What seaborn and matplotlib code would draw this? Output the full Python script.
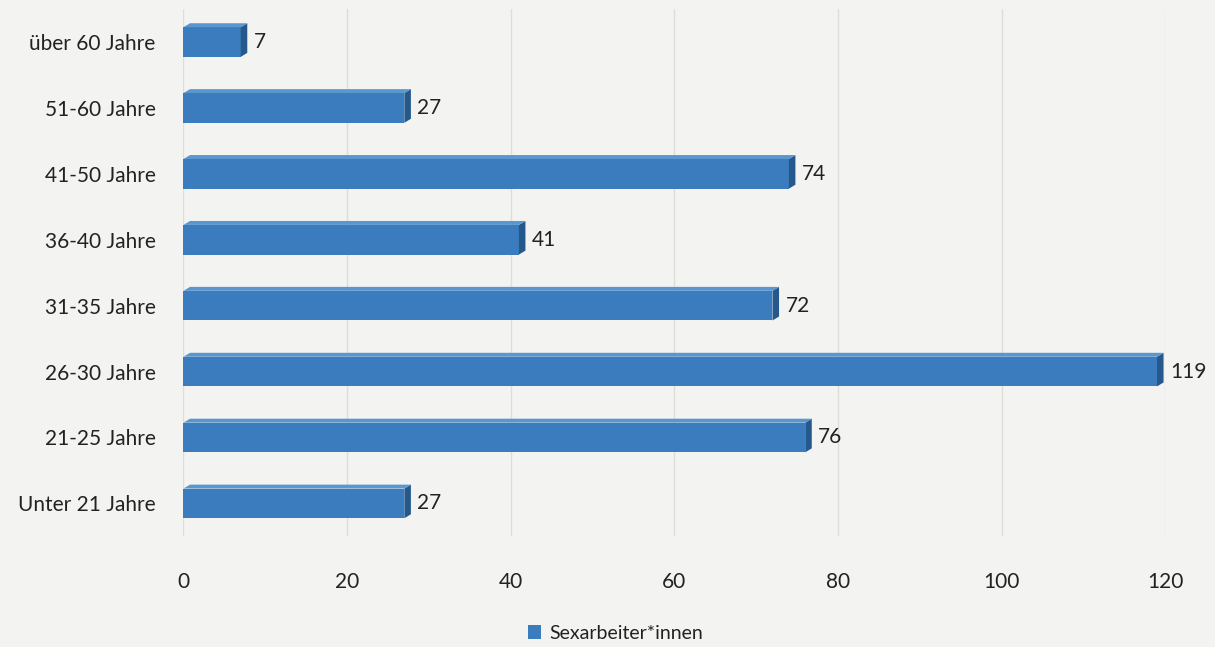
import matplotlib.pyplot as plt
import matplotlib.patches as patches
import seaborn as sns
import pandas as pd

# Altersgruppen, von oben nach unten
kategorien = ['über 60 Jahre', '51-60 Jahre', '41-50 Jahre', '36-40 Jahre',
              '31-35 Jahre', '26-30 Jahre', '21-25 Jahre', 'Unter 21 Jahre']
werte = [7, 27, 74, 41, 72, 119, 76, 27]
serie = 'Sexarbeiter*innen'
x_ticks = [0, 20, 40, 60, 80, 100, 120]

df = pd.DataFrame({'Alter': kategorien, 'Anzahl': werte, 'Serie': serie})

sns.set_theme(style='white')
plt.rcParams['font.family'] = ['Lato', 'DejaVu Sans']

bar_col = '#3a7cbd'
side_col = '#25598c'
top_col = '#5b97cf'
bg = '#f3f3f1'

fig = plt.figure(figsize=(12.15, 6.47), dpi=100, facecolor=bg)
ax = fig.add_axes([0.151, 0.171, 0.808, 0.815], facecolor=bg)

sns.barplot(data=df, x='Anzahl', y='Alter', hue='Serie', orient='h',
            palette=[bar_col], width=0.45, ax=ax, saturation=1, legend=True,
            edgecolor='none', linewidth=0)

ax.set_xlim(0, 120)
ax.set_ylim(7.5, -0.5)
ax.set_xticks(x_ticks)
ax.set_xlabel('')
ax.set_ylabel('')
for s in ax.spines.values():
    s.set_visible(False)
ax.grid(axis='x', color='#deded9', linewidth=1)
ax.set_axisbelow(True)
ax.tick_params(axis='x', labelsize=15, colors='#222222', pad=26, length=0)
ax.tick_params(axis='y', labelsize=15, colors='#222222', pad=20, length=0)

# pseudo-3D Seitenflaeche und Oberkante
dx = 0.8
for p, v in zip(ax.patches, werte):
    x0, y0 = p.get_x(), p.get_y()
    w, h = p.get_width(), p.get_height()
    side = patches.Polygon([(x0 + w, y0 + h), (x0 + w + dx, y0 + h - 0.06),
                            (x0 + w + dx, y0 - 0.06), (x0 + w, y0)],
                           closed=True, facecolor=side_col, edgecolor='none')
    top = patches.Polygon([(x0, y0), (x0 + dx, y0 - 0.06),
                           (x0 + w + dx, y0 - 0.06), (x0 + w, y0)],
                          closed=True, facecolor=top_col, edgecolor='none')
    ax.add_patch(side)
    ax.add_patch(top)
    ax.text(x0 + w + dx + 0.8, y0 + h / 2, str(v), va='center', ha='left',
            fontsize=15, color='#222222')

leg = ax.legend(loc='upper center', bbox_to_anchor=(0.44, -0.135), frameon=False,
                fontsize=14, handlelength=0.7, handleheight=0.7, handletextpad=0.4)
for t in leg.get_texts():
    t.set_color('#222222')

fig.savefig('out.png', dpi=100, facecolor=bg)
